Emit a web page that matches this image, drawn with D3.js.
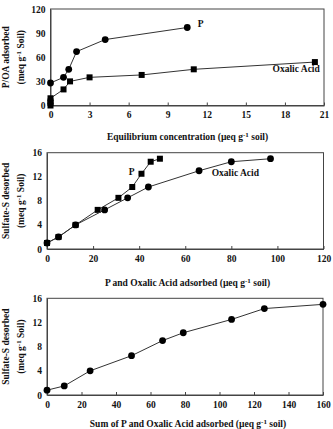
<!DOCTYPE html>
<html><head><meta charset="utf-8">
<script src="https://cdn.jsdelivr.net/npm/d3@7"></script>
<style>
html,body{margin:0;padding:0;background:#fff;}
svg text{font-family:"Liberation Serif","Times New Roman",serif;font-weight:bold;fill:#111;}
</style></head>
<body>
<svg id="c" width="333" height="429"></svg>
<script>
// Panel 1: P/OA adsorbed vs equilibrium concentration
const p1P_x = [0, 1, 1.4, 2, 4.2, 10.5];
const p1P_y = [28, 35, 45, 67, 82, 97];
const p1OA_x = [0, 0, 0, 0, 1, 1.5, 3, 7, 11, 20.3];
const p1OA_y = [0, 3, 5, 9, 20, 30, 35, 38, 45, 54];
const p1XTicks = [0, 3, 6, 9, 12, 15, 18, 21];
const p1YTicks = [0, 30, 60, 90, 120];

// Panel 2: Sulfate-S desorbed vs P and OA adsorbed
const p2P_x = [0, 5, 12.4, 22, 31, 37, 41, 45, 49];
const p2P_y = [1, 2, 4, 6.5, 8.5, 10.3, 12.5, 14.5, 15];
const p2OA_x = [0, 5, 12.4, 25, 35, 44, 66, 80, 97];
const p2OA_y = [1, 2, 4, 6.5, 8.5, 10.3, 13, 14.5, 15];
const p2XTicks = [0, 20, 40, 60, 80, 100, 120];
const p2YTicks = [0, 4, 8, 12, 16];

// Panel 3: Sulfate-S desorbed vs sum adsorbed
const p3_x = [0, 10, 25, 49, 67, 79, 107, 126, 160];
const p3_y = [0.8, 1.5, 4, 6.5, 9, 10.3, 12.5, 14.3, 15];
const p3XTicks = [0, 20, 40, 60, 80, 100, 120, 140, 160];
const p3YTicks = [0, 4, 8, 12, 16];

const svg = d3.select("#c");
const FS = 9.5;

function zip(xs, ys){ return xs.map((x,i)=>[x, ys[i]]); }

function panel(o){
  const x = d3.scaleLinear().domain(o.xd).range([o.l, o.r]);
  const y = d3.scaleLinear().domain(o.yd).range([o.b, o.t]);
  const g = svg.append("g");
  g.append("rect").attr("x", o.l).attr("y", o.t).attr("width", o.r - o.l).attr("height", o.b - o.t)
    .attr("fill", "none").attr("stroke", "#444").attr("stroke-width", 1);
  const xa = d3.axisBottom(x).tickValues(o.xt).tickSizeInner(-3).tickSizeOuter(0).tickPadding(6);
  const xg = g.append("g").attr("transform", `translate(0,${o.b})`).call(xa);
  xg.select(".domain").attr("stroke", "#444");
  xg.selectAll(".tick line").attr("stroke", "#444");
  xg.selectAll("text").attr("font-size", FS).attr("font-family", "Liberation Serif").attr("font-weight", "bold").attr("fill", "#111");
  const ya = d3.axisLeft(y).tickValues(o.yt).tickSizeInner(0).tickSizeOuter(0).tickPadding(5);
  const yg = g.append("g").attr("transform", `translate(${o.l},0)`).call(ya);
  yg.select(".domain").attr("stroke", "#444");
  yg.selectAll("text").attr("font-size", FS).attr("font-family", "Liberation Serif").attr("font-weight", "bold").attr("fill", "#111");
  const line = d3.line().x(d=>x(d[0])).y(d=>y(d[1]));
  o.series.forEach(s=>{
    g.append("path").attr("d", line(s.data)).attr("fill", "none").attr("stroke", "#333").attr("stroke-width", 1);
    s.data.forEach(d=>{
      if (s.shape === "circle") {
        g.append("circle").attr("cx", x(d[0])).attr("cy", y(d[1])).attr("r", 3.4).attr("fill", "#000");
      } else {
        g.append("rect").attr("x", x(d[0]) - 3).attr("y", y(d[1]) - 3).attr("width", 6).attr("height", 6).attr("fill", "#000");
      }
    });
  });
  const xt = g.append("text").attr("x", o.xtx).attr("y", o.xty).attr("text-anchor", "middle").attr("font-size", FS);
  xt.append("tspan").text(o.xtitle[0]);
  xt.append("tspan").attr("dy", -3).attr("font-size", 7).text("-1");
  xt.append("tspan").attr("dy", 3).text(o.xtitle[1]);
  const cy = (o.t + o.b) / 2;
  g.append("text").attr("transform", `translate(8.5,${cy}) rotate(-90)`).attr("text-anchor", "middle")
    .attr("font-size", FS).text(o.ytitle);
  const y2 = g.append("text").attr("transform", `translate(24,${cy}) rotate(-90)`).attr("text-anchor", "middle").attr("font-size", FS);
  y2.append("tspan").text("(meq g");
  y2.append("tspan").attr("dy", -3).attr("font-size", 7).text("-1");
  y2.append("tspan").attr("dy", 3).text(" Soil)");
  (o.labels || []).forEach(lb=>{
    g.append("text").attr("x", x(lb.x)).attr("y", y(lb.y)).attr("font-size", FS).text(lb.text);
  });
}

panel({l:50.5, r:324, t:9, b:105.5, xd:[0,21], yd:[0,120], xt:p1XTicks, yt:p1YTicks,
  series:[{shape:"circle", data:zip(p1P_x, p1P_y)}, {shape:"square", data:zip(p1OA_x, p1OA_y)}],
  xtitle:["Equilibrium concentration (\u00b5eq g", " soil)"], xtx:187.5, xty:140,
  ytitle:"P/OA adsorbed",
  labels:[{x:11.3, y:97, text:"P"}, {x:17.05, y:41.5, text:"Oxalic Acid"}]});

panel({l:47, r:323.5, t:152.7, b:249, xd:[0,120], yd:[0,16], xt:p2XTicks, yt:p2YTicks,
  series:[{shape:"square", data:zip(p2P_x, p2P_y)}, {shape:"circle", data:zip(p2OA_x, p2OA_y)}],
  xtitle:["P and Oxalic Acid adsorbed (\u00b5eq g", " soil)"], xtx:187.5, xty:286,
  ytitle:"Sulfate-S desorbed",
  labels:[{x:35.5, y:12.3, text:"P"}, {x:71.5, y:12.2, text:"Oxalic Acid"}]});

panel({l:47, r:323, t:298.3, b:395, xd:[0,160], yd:[0,16], xt:p3XTicks, yt:p3YTicks,
  series:[{shape:"circle", data:zip(p3_x, p3_y)}],
  xtitle:["Sum of P and Oxalic Acid adsorbed (\u00b5eq g", " soil)"], xtx:188, xty:427,
  ytitle:"Sulfate-S desorbed"});
</script>
</body></html>
